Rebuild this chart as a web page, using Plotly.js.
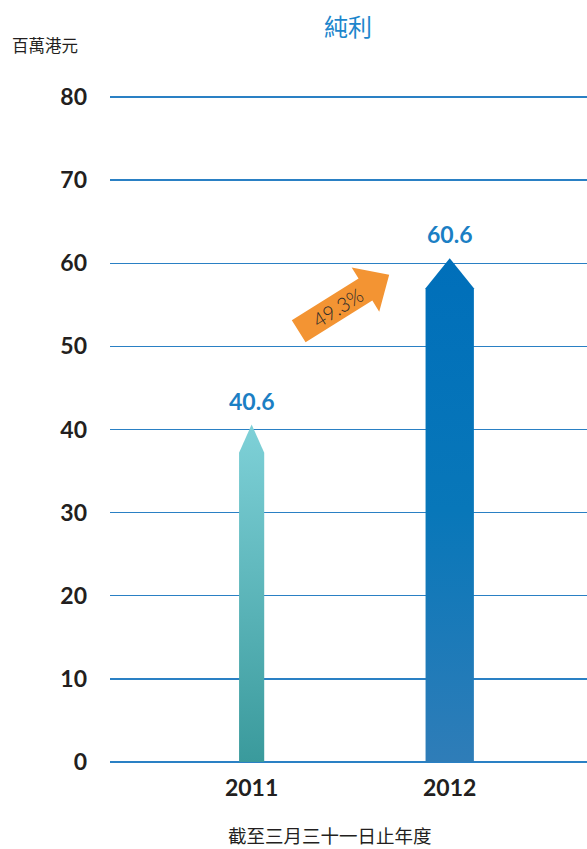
<!DOCTYPE html>
<html>
<head>
<meta charset="utf-8">
<script src="https://cdn.plot.ly/plotly-3.0.1.min.js"></script>
<style>html,body{margin:0;padding:0;background:#fff;}#chart{width:587px;height:849px;}</style>
</head>
<body>
<div id="chart"></div>
<script>
// ---- data ----
const categories = ['2011', '2012'];
const netProfit = [40.6, 60.6];
const valueLabels = ['40.6', '60.6'];
const growthLabel = '49.3%';
const yTickValues = [0, 10, 20, 30, 40, 50, 60, 70, 80];
const titleText = '純利';
const unitText = '百萬港元';
const xTitleText = '截至三月三十一日止年度';

// ---- style ----
const W = 587, H = 849;
const M = {l: 110, r: 0, t: 95, b: 87};
const plotW = W - M.l - M.r, plotH = H - M.t - M.b;
const xPos = [1, 2];
const xRange = [0.285, 2.693];
const yRange = [0, 80.24];
const barWidths = [0.127, 0.244];
const headHeights = [3.4, 3.6];
const barColors = [
  [[0, '#3a9a9c'], [1, '#7fd1d8']],
  [[0, '#2f7db8'], [0.5, '#0877b9'], [1, '#006fba']]
];
const numFont = 'Lato, "Open Sans", sans-serif';
const cjkFont = '"Noto Sans CJK TC", "Noto Sans CJK SC", sans-serif';
const blue = '#1b7fc4';
const gridBlue = '#2a80c4';
const dark = '#231f20';
const orange = '#f39433';

// pixel -> data helpers (for decorative arrow only)
const px2x = px => xRange[0] + (px - M.l) / plotW * (xRange[1] - xRange[0]);
const py2y = py => yRange[0] + (H - M.b - py) / plotH * (yRange[1] - yRange[0]);

const traces = categories.map((c, i) => {
  const x0 = xPos[i] - barWidths[i] / 2, x1 = xPos[i] + barWidths[i] / 2;
  const v = netProfit[i], s = v - headHeights[i];
  return {
    type: 'scatter', mode: 'lines',
    x: [x0, x0, xPos[i], x1, x1, x0],
    y: [0, s, v, s, 0, 0],
    fill: 'toself',
    fillgradient: {type: 'vertical', colorscale: barColors[i], start: 0, stop: v},
    line: {width: 0, color: 'rgba(0,0,0,0)'},
    hoverinfo: 'skip', showlegend: false
  };
});

// growth arrow (decoration) built in pixel space
const ang = 32 * Math.PI / 180;
const u = [Math.cos(ang), -Math.sin(ang)];
const n = [Math.sin(ang), Math.cos(ang)];
const P0 = [298.7, 331.3];
const shaftLen = 78.7, totalLen = 106.7, hw = 13, hh = 26;
const pt = (t, k) => [P0[0] + t * u[0] + k * n[0], P0[1] + t * u[1] + k * n[1]];
const arrowPx = [pt(0, -hw), pt(0, hw), pt(shaftLen, hw), pt(shaftLen, hh), pt(totalLen, 0), pt(shaftLen, -hh), pt(shaftLen, -hw), pt(0, -hw)];
traces.push({
  type: 'scatter', mode: 'lines',
  x: arrowPx.map(p => px2x(p[0])), y: arrowPx.map(p => py2y(p[1])),
  fill: 'toself', fillcolor: orange, line: {width: 0, color: orange},
  hoverinfo: 'skip', showlegend: false
});
const labelPx = pt(46, 0);

const annotations = [
  {text: unitText, xref: 'paper', yref: 'paper', x: (45 - M.l) / plotW, y: 1 + (M.t - 45) / plotH,
   showarrow: false, xanchor: 'center', yanchor: 'middle', font: {family: cjkFont, size: 16.5, color: dark}},
  {text: xTitleText, xref: 'paper', yref: 'paper', x: (330 - M.l) / plotW, y: -(835 - (H - M.b)) / plotH,
   showarrow: false, xanchor: 'center', yanchor: 'middle', font: {family: cjkFont, size: 18.5, color: dark}},
  {text: growthLabel, xref: 'x', yref: 'y', x: px2x(labelPx[0]), y: py2y(labelPx[1]), textangle: -32,
   showarrow: false, xanchor: 'center', yanchor: 'middle', font: {family: numFont, size: 20, color: '#2a2a2a', weight: 300}}
];
categories.forEach((c, i) => {
  annotations.push({text: valueLabels[i], xref: 'x', yref: 'y', x: xPos[i], y: netProfit[i], yshift: 24,
    showarrow: false, xanchor: 'center', yanchor: 'middle', font: {family: numFont, size: 23, color: blue, weight: 'bold'}});
});

const layout = {
  width: W, height: H, margin: M,
  paper_bgcolor: '#fff', plot_bgcolor: '#fff', showlegend: false,
  title: {text: titleText, xref: 'container', yref: 'container', x: 348 / W, y: 1 - 28 / H,
          xanchor: 'center', yanchor: 'middle', font: {family: cjkFont, size: 24, color: '#1d86cc'}},
  xaxis: {range: xRange, tickvals: xPos, ticktext: categories, showgrid: false, zeroline: false, showline: false,
          ticks: '', ticklabelstandoff: 10, tickfont: {family: numFont, size: 23, color: dark, weight: 'bold'}, fixedrange: true},
  yaxis: {range: yRange, tickvals: yTickValues, showgrid: true, gridcolor: gridBlue, gridwidth: 1.3,
          zeroline: true, zerolinecolor: gridBlue, zerolinewidth: 1.5, showline: false, ticks: '',
          ticklabelstandoff: 22, tickfont: {family: numFont, size: 23, color: dark, weight: 'bold'}, fixedrange: true},
  annotations: annotations
};

Plotly.newPlot('chart', traces, layout, {displayModeBar: false, staticPlot: true});
</script>
</body>
</html>
